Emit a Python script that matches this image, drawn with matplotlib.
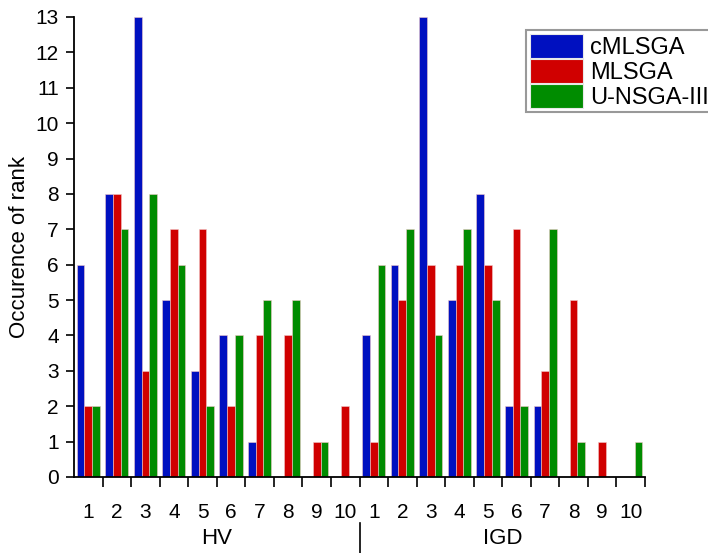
import matplotlib
matplotlib.use("Agg")
import matplotlib.pyplot as plt
import numpy as np
from matplotlib.patches import Patch

plt.rcParams['font.family'] = ['Liberation Sans', 'DejaVu Sans']

# --------------------------------------------------------------------------- #
# Data                                                                         #
# --------------------------------------------------------------------------- #
RANKS      = [str(r) for r in range(1, 11)]
GROUPS     = ["HV", "IGD"]
SERIES     = ["cMLSGA", "MLSGA", "U-NSGA-III"]
COLORS     = ["#0010C0", "#D00000", "#008C00"]

hv_cmlsga  = [6, 8, 13, 5, 3, 4, 1, 0, 0, 0]
hv_mlsga   = [2, 8, 3, 7, 7, 2, 4, 4, 1, 2]
hv_unsga   = [2, 7, 8, 6, 2, 4, 5, 5, 1, 0]

igd_cmlsga = [4, 6, 13, 5, 8, 2, 2, 0, 0, 0]
igd_mlsga  = [1, 5, 6, 6, 6, 7, 3, 5, 1, 0]
igd_unsga  = [6, 7, 4, 7, 5, 2, 7, 1, 0, 1]

values = [hv_cmlsga + igd_cmlsga,
          hv_mlsga + igd_mlsga,
          hv_unsga + igd_unsga]

# --------------------------------------------------------------------------- #
fig = plt.figure(figsize=(7.08, 5.53), dpi=100)
ax = fig.add_axes([74/708, 1 - 477/553, (645 - 74)/708, (477 - 17)/553])

n = len(values[0])
x = np.arange(1, n + 1)
w = 0.27
for k, (vals, col, name) in enumerate(zip(values, COLORS, SERIES)):
    ax.bar(x + (k - 1) * w, vals, width=w, color=col, edgecolor="#f0c8c8",
           linewidth=0.4, label=name)

ax.set_xlim(0.5, n + 0.5)
ax.set_ylim(0, 13)
ax.set_yticks(range(0, 14))
ax.set_xticks(x)
ax.set_xticklabels(RANKS * len(GROUPS))
ax.set_xticks(np.arange(1.5, n + 0.6, 1.0), minor=True)
ax.tick_params(axis="x", which="major", length=0, pad=19, labelsize=15)
ax.tick_params(axis="x", which="minor", length=7, width=1.2, direction="out")
ax.tick_params(axis="y", length=6, width=1.2, direction="out", pad=5, labelsize=15)
for side in ("top", "right"):
    ax.spines[side].set_visible(False)
for side in ("left", "bottom"):
    ax.spines[side].set_linewidth(1.3)

ax.set_ylabel("Occurence of rank", fontsize=16, labelpad=4)

# group labels under the rank labels
trans = ax.get_xaxis_transform()
for g, name in enumerate(GROUPS):
    ax.text(5.5 + 10 * g, -(539 - 477) / 460, name, transform=trans,
            ha="center", va="center", fontsize=16)
ax.plot([10.5, 10.5], [-(523 - 477) / 460, -(553 - 477) / 460],
        transform=trans, color="black", linewidth=1.2, clip_on=False)

handles = [Patch(facecolor=c, edgecolor="#e8e8e8", linewidth=0.8) for c in COLORS]
leg = fig.legend(handles, SERIES, loc="upper left",
                 bbox_to_anchor=(526/708, 1 - 30/553), fontsize=17,
                 handlelength=2.25, handleheight=1.2, labelspacing=0.0,
                 handletextpad=0.3, borderpad=0.15, borderaxespad=0,
                 fancybox=False, frameon=True)
leg.get_frame().set_edgecolor("#808080")
leg.get_frame().set_linewidth(1.5)

fig.savefig("out.png", dpi=100)
